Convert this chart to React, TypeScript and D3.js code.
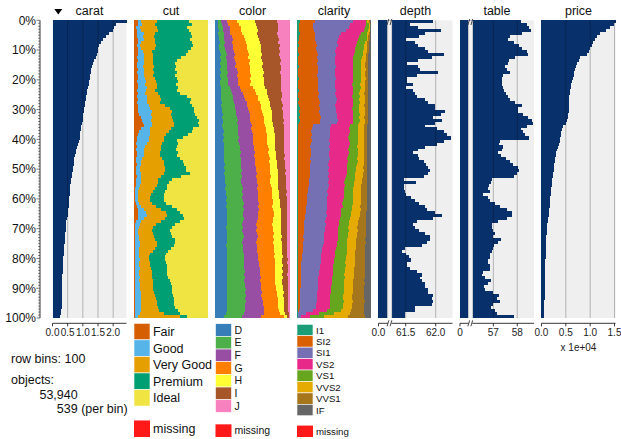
import React from 'react';
import * as d3 from 'd3';

const W = 621;
const H = 439;
const FONT = 'Liberation Sans, Arial, sans-serif';

const colNames = ['carat', 'cut', 'color', 'clarity', 'depth', 'table', 'price'];
const pctTicks = [0, 10, 20, 30, 40, 50, 60, 70, 80, 90, 100];

const cutLevels = ['Fair', 'Good', 'Very Good', 'Premium', 'Ideal'];
const cutColors = ['#D55E00', '#56B4E9', '#E69F00', '#009E73', '#F0E442'];
const colorLevels = ['D', 'E', 'F', 'G', 'H', 'I', 'J'];
const colorColors = ['#377EB8', '#4DAF4A', '#984EA3', '#FF7F00', '#FFFF33', '#A65628', '#F781BF'];
const clarityLevels = ['I1', 'SI2', 'SI1', 'VS2', 'VS1', 'VVS2', 'VVS1', 'IF'];
const clarityColors = ['#1B9E77', '#D95F02', '#7570B3', '#E7298A', '#66A61E', '#E6AB02', '#A6761D', '#666666'];

const caratTicks = [0, 0.5, 1, 1.5, 2];
const depthTicks = [61.5, 62.0];
const tableTicks = [57, 58];
const priceTicks = [0, 5000, 10000, 15000];

// bin means, row 0 = top (largest carat)
const carat = [2.44,2.08,2.02,2.01,1.86,1.75,1.68,1.60,1.54,1.51,
1.50,1.46,1.42,1.37,1.34,1.31,1.28,1.26,1.24,1.22,
1.21,1.19,1.17,1.15,1.13,1.11,1.10,1.08,1.07,1.05,
1.03,1.01,1.01,1.00,0.97,0.95,0.93,0.92,0.90,0.89,
0.87,0.84,0.81,0.78,0.76,0.74,0.72,0.70,0.70,0.69,
0.67,0.65,0.63,0.62,0.60,0.59,0.58,0.58,0.57,0.56,
0.55,0.54,0.53,0.52,0.51,0.50,0.48,0.46,0.45,0.44,
0.43,0.42,0.41,0.40,0.40,0.39,0.38,0.38,0.37,0.36,
0.35,0.34,0.34,0.33,0.33,0.32,0.32,0.32,0.31,0.31,
0.31,0.30,0.30,0.30,0.30,0.30,0.30,0.29,0.28,0.26];

const depth = [61.95,61.58,61.70,62.09,61.82,61.72,61.51,61.66,61.70,61.82,
61.88,62.13,61.94,61.70,61.52,61.70,61.74,62.03,61.69,61.52,
61.52,61.62,61.51,61.62,61.65,61.69,61.83,61.88,61.98,61.99,
62.16,62.08,61.96,62.10,61.99,61.83,62.02,62.13,62.19,62.26,
62.14,62.02,61.82,61.70,61.62,61.70,61.72,61.80,61.84,61.88,
61.91,61.88,61.80,61.47,61.68,61.48,61.47,61.49,61.51,61.59,
61.66,61.73,61.83,61.85,61.99,62.10,61.96,61.69,61.63,61.66,
61.72,61.83,61.91,61.91,61.85,61.77,61.49,61.44,61.51,61.55,
61.59,61.53,61.52,61.58,61.69,61.77,61.74,61.77,61.82,61.83,
61.87,61.88,61.96,61.94,61.95,61.94,61.66,61.65,61.49,61.49];

const table = [58.14,58.39,58.49,58.57,58.18,57.69,57.63,57.88,58.07,58.18,
58.39,58.46,57.90,57.65,57.63,57.49,57.56,57.69,57.42,57.35,
57.35,57.38,57.42,57.46,57.51,57.60,57.69,57.90,58.18,58.04,
58.01,58.25,58.46,58.60,58.67,58.39,58.15,58.25,58.32,58.49,
57.28,57.24,57.42,57.35,57.21,57.32,57.51,57.69,57.83,58.04,
58.07,57.97,57.88,56.93,56.90,56.83,56.79,56.86,56.58,56.79,
56.86,57.07,57.28,57.56,57.76,57.79,57.56,57.21,56.93,56.96,
57.00,57.07,57.00,57.32,57.21,57.04,57.00,56.96,56.86,56.86,
56.79,56.76,56.86,56.86,56.58,56.54,56.65,56.90,56.76,56.63,
56.65,57.00,57.24,57.14,57.28,57.00,56.90,57.07,57.14,57.88];

const price = [15200,14800,14100,13300,12100,11300,10900,10600,10300,10000,
9700,9400,8000,7700,7300,7000,6800,6700,6600,6400,
6300,6100,6000,5900,5900,5700,5700,5700,5600,5700,
5600,5400,5400,5200,5100,4400,4200,4100,4000,3900,
3800,3600,3400,3200,3000,2900,2800,2700,2600,2550,
2500,2400,2300,2200,2150,2100,2000,1950,1900,1850,
1800,1700,1650,1600,1500,1450,1350,1250,1200,1150,
1100,1050,1000,980,950,920,900,880,860,840,
820,800,780,760,740,720,700,690,680,670,
660,650,640,630,620,610,600,590,560,520];

// cumulative category boundaries per bin
const cutCum = [
[.06,.10,.31,.74],[.05,.11,.29,.79],[.03,.08,.31,.72],[.04,.09,.33,.74],[.04,.13,.28,.77],
[.04,.12,.27,.79],[.05,.13,.29,.76],[.05,.09,.29,.79],[.04,.08,.30,.80],[.05,.10,.28,.77],
[.05,.12,.24,.73],[.05,.13,.25,.70],[.04,.13,.26,.64],[.05,.13,.25,.58],[.04,.13,.26,.56],
[.04,.12,.27,.57],[.05,.13,.26,.55],[.04,.14,.27,.58],[.05,.13,.25,.56],[.05,.15,.29,.58],
[.04,.16,.30,.59],[.05,.15,.31,.57],[.05,.17,.31,.60],[.04,.16,.29,.58],[.05,.15,.32,.62],
[.04,.17,.35,.72],[.05,.18,.36,.77],[.04,.17,.35,.75],[.05,.20,.42,.79],[.06,.22,.48,.81],
[.06,.24,.51,.81],[.07,.23,.50,.83],[.09,.24,.52,.85],[.11,.23,.53,.88],[.12,.24,.54,.87],
[.13,.24,.54,.88],[.10,.22,.50,.80],[.07,.22,.47,.78],[.05,.21,.43,.73],[.04,.20,.41,.66],
[.04,.20,.40,.58],[.03,.17,.38,.60],[.04,.15,.37,.58],[.03,.14,.36,.57],[.04,.13,.35,.60],
[.04,.13,.35,.58],[.03,.11,.38,.62],[.03,.10,.40,.66],[.04,.09,.41,.68],[.03,.08,.42,.70],
[.03,.08,.42,.70],[.03,.09,.40,.75],[.04,.10,.36,.63],[.03,.09,.33,.52],[.03,.09,.32,.47],
[.03,.08,.31,.45],[.02,.07,.29,.44],[.02,.06,.25,.42],[.02,.06,.23,.40],[.02,.06,.22,.40],
[.02,.06,.22,.40],[.03,.07,.24,.43],[.04,.10,.30,.52],[.05,.13,.37,.58],[.06,.16,.43,.62],
[.06,.17,.45,.66],[.05,.14,.42,.68],[.03,.10,.36,.62],[.02,.08,.30,.55],[.01,.07,.26,.52],
[.01,.06,.24,.49],[.01,.06,.25,.50],[.02,.07,.27,.52],[.01,.07,.29,.55],[.01,.08,.31,.56],
[.01,.08,.31,.54],[.01,.07,.28,.50],[.01,.07,.25,.46],[.01,.07,.22,.43],[.01,.07,.20,.42],
[.01,.08,.20,.42],[.01,.07,.21,.43],[.01,.07,.22,.44],[.01,.08,.23,.45],[.01,.07,.24,.45],
[.01,.07,.24,.45],[.01,.08,.24,.46],[.01,.07,.25,.48],[.01,.08,.25,.50],[.01,.08,.26,.51],
[.01,.08,.26,.51],[.01,.09,.27,.52],[.01,.09,.28,.53],[.01,.10,.30,.54],[.01,.10,.31,.54],
[.01,.10,.31,.54],[.01,.09,.32,.56],[.02,.10,.34,.60],[.02,.08,.40,.62],[.01,.05,.62,.72]];

const colorCum = [
[.03,.08,.15,.29,.54,.83],[.04,.09,.17,.32,.55,.84],[.04,.10,.19,.34,.56,.84],[.05,.10,.20,.35,.57,.85],[.04,.11,.20,.36,.56,.83],
[.05,.11,.22,.38,.58,.85],[.05,.12,.23,.40,.59,.86],[.06,.13,.22,.41,.60,.85],[.05,.12,.24,.42,.61,.87],[.05,.13,.24,.42,.61,.86],
[.06,.14,.25,.44,.62,.87],[.07,.15,.26,.45,.63,.86],[.06,.14,.25,.44,.62,.87],[.07,.15,.27,.46,.63,.88],[.06,.16,.28,.45,.64,.87],
[.07,.15,.27,.47,.63,.88],[.06,.16,.29,.46,.64,.88],[.07,.17,.30,.47,.65,.87],[.06,.16,.29,.48,.64,.88],[.07,.17,.31,.47,.65,.89],
[.06,.17,.30,.48,.66,.88],[.06,.17,.31,.47,.65,.88],[.07,.19,.33,.50,.67,.89],[.07,.21,.35,.53,.69,.89],[.08,.22,.37,.55,.70,.90],
[.08,.23,.39,.57,.71,.90],[.08,.24,.40,.58,.72,.89],[.09,.25,.42,.60,.73,.90],[.08,.26,.43,.61,.74,.91],[.09,.27,.44,.62,.75,.90],
[.09,.28,.45,.63,.76,.91],[.10,.28,.46,.64,.76,.91],[.09,.29,.47,.65,.77,.91],[.10,.30,.47,.66,.77,.92],[.10,.29,.48,.66,.78,.91],
[.09,.30,.49,.67,.78,.92],[.10,.31,.48,.68,.79,.92],[.11,.30,.49,.68,.79,.92],[.10,.31,.50,.69,.80,.93],[.11,.32,.51,.70,.80,.92],
[.10,.31,.50,.69,.80,.93],[.11,.32,.51,.70,.81,.93],[.12,.33,.52,.71,.81,.92],[.11,.33,.52,.72,.81,.93],[.12,.34,.53,.71,.82,.93],
[.11,.33,.52,.72,.82,.94],[.12,.34,.54,.73,.82,.93],[.12,.35,.53,.72,.83,.94],[.13,.34,.54,.73,.83,.94],[.12,.35,.55,.74,.83,.94],
[.13,.36,.55,.73,.84,.95],[.12,.35,.56,.74,.84,.94],[.13,.36,.55,.75,.85,.95],[.13,.35,.56,.74,.84,.95],[.13,.35,.56,.74,.84,.95],
[.14,.36,.57,.75,.85,.95],[.13,.37,.56,.76,.85,.95],[.14,.36,.57,.76,.86,.96],[.14,.37,.58,.77,.86,.95],[.15,.36,.57,.77,.86,.96],
[.14,.37,.58,.78,.87,.96],[.15,.38,.59,.78,.87,.96],[.14,.37,.58,.77,.87,.96],[.15,.38,.59,.78,.88,.96],[.15,.37,.58,.79,.88,.96],
[.15,.37,.58,.79,.88,.96],[.16,.38,.57,.78,.88,.97],[.15,.37,.56,.78,.89,.96],[.15,.36,.55,.77,.89,.97],[.14,.37,.56,.78,.88,.97],
[.15,.36,.55,.78,.89,.97],[.15,.37,.56,.79,.89,.96],[.16,.38,.57,.78,.90,.97],[.15,.37,.56,.79,.89,.97],[.15,.36,.55,.78,.90,.97],
[.14,.37,.56,.79,.90,.97],[.15,.37,.56,.79,.90,.97],[.15,.37,.56,.79,.90,.97],[.15,.38,.57,.80,.90,.97],[.16,.38,.58,.79,.91,.97],
[.15,.39,.58,.80,.90,.98],[.15,.38,.59,.80,.90,.97],[.16,.39,.59,.80,.91,.98],[.15,.39,.60,.81,.90,.98],[.15,.40,.60,.80,.91,.98],
[.16,.39,.60,.81,.90,.97],[.15,.40,.61,.81,.91,.98],[.15,.39,.60,.80,.90,.98],[.15,.40,.61,.81,.90,.98],[.16,.40,.62,.82,.91,.98],
[.15,.41,.62,.82,.91,.98],[.15,.40,.63,.83,.92,.98],[.16,.41,.62,.83,.91,.98],[.15,.40,.63,.84,.92,.98],[.15,.41,.64,.84,.92,.98],
[.16,.40,.64,.85,.93,.98],[.15,.40,.65,.85,.93,.98],[.15,.40,.65,.86,.93,.98],[.14,.39,.66,.87,.94,.99],[.12,.36,.62,.92,.97,.99]];

const clarityCum = [
[.04,.24,.75,.93,.95,.97,.99],[.03,.22,.72,.93,.97,.98,.99],[.03,.22,.70,.92,.97,.98,.99],[.03,.23,.66,.90,.96,.98,.99],[.04,.24,.60,.86,.95,.97,.98],
[.03,.25,.57,.84,.94,.96,.98],[.03,.25,.55,.82,.94,.96,.98],[.02,.26,.54,.81,.92,.95,.97],[.03,.27,.55,.80,.91,.95,.97],[.02,.26,.53,.79,.90,.94,.97],
[.02,.27,.52,.78,.89,.94,.97],[.03,.28,.53,.77,.89,.93,.96],[.02,.27,.52,.76,.88,.93,.96],[.02,.28,.51,.76,.87,.93,.96],[.02,.27,.52,.75,.87,.92,.96],
[.03,.28,.53,.76,.86,.92,.96],[.02,.29,.52,.75,.87,.93,.96],[.02,.28,.51,.76,.86,.92,.96],[.02,.27,.52,.75,.86,.92,.96],[.03,.28,.53,.76,.87,.93,.96],
[.02,.28,.52,.75,.86,.92,.96],[.02,.29,.51,.74,.85,.92,.96],[.02,.28,.52,.75,.86,.92,.96],[.03,.29,.53,.76,.85,.92,.96],[.02,.30,.52,.75,.84,.91,.96],
[.02,.29,.53,.74,.85,.92,.96],[.03,.30,.54,.75,.84,.92,.96],[.02,.31,.53,.76,.85,.92,.96],[.03,.30,.52,.75,.84,.91,.96],[.04,.31,.53,.74,.84,.92,.96],
[.03,.30,.53,.75,.84,.92,.96],[.04,.31,.54,.76,.85,.92,.96],[.03,.32,.54,.75,.84,.91,.96],[.04,.31,.55,.76,.85,.92,.96],[.03,.31,.54,.75,.84,.92,.96],
[.02,.21,.46,.71,.83,.91,.95],[.01,.20,.45,.70,.83,.91,.95],[.02,.19,.44,.71,.82,.90,.95],[.01,.20,.45,.70,.83,.91,.95],[.01,.19,.44,.69,.82,.90,.95],
[.02,.20,.43,.70,.83,.91,.95],[.01,.19,.44,.71,.82,.90,.95],[.01,.18,.43,.70,.81,.90,.95],[.01,.19,.44,.69,.82,.91,.95],[.01,.19,.43,.70,.83,.90,.95],
[.01,.19,.43,.69,.82,.91,.95],[.01,.18,.44,.68,.81,.90,.95],[.01,.19,.43,.69,.82,.90,.95],[.01,.18,.42,.68,.81,.90,.95],[.01,.17,.43,.67,.80,.89,.95],
[.01,.18,.42,.68,.80,.90,.95],[.01,.17,.43,.67,.79,.89,.94],[.01,.17,.42,.66,.79,.89,.94],[.01,.16,.43,.65,.78,.88,.94],[.01,.16,.42,.64,.77,.88,.94],
[.01,.16,.43,.65,.77,.87,.94],[.01,.15,.42,.64,.76,.87,.94],[.01,.15,.41,.63,.76,.86,.94],[.01,.14,.42,.64,.75,.87,.94],[.01,.14,.41,.63,.76,.86,.94],
[.01,.13,.41,.62,.75,.86,.94],[.01,.13,.40,.61,.75,.86,.94],[.01,.12,.41,.62,.74,.85,.94],[.01,.12,.40,.60,.74,.86,.94],[.01,.12,.39,.60,.73,.85,.93],
[.01,.11,.40,.59,.73,.85,.93],[.01,.11,.39,.58,.72,.84,.93],[.01,.10,.38,.57,.70,.82,.93],[.01,.10,.39,.57,.70,.82,.93],[.01,.09,.38,.56,.69,.81,.93],
[.01,.09,.38,.56,.70,.82,.93],[.01,.09,.37,.56,.69,.81,.93],[.01,.08,.37,.55,.69,.81,.93],[.01,.09,.36,.55,.68,.80,.92],[.01,.08,.36,.54,.68,.80,.93],
[.01,.08,.35,.54,.68,.80,.92],[.01,.08,.34,.53,.67,.80,.92],[.01,.08,.34,.52,.67,.79,.92],[.01,.07,.33,.51,.67,.79,.92],[.01,.07,.33,.51,.66,.78,.92],
[.01,.07,.32,.50,.66,.78,.92],[.01,.06,.32,.50,.65,.78,.92],[.01,.06,.31,.49,.66,.78,.92],[.01,.06,.31,.49,.65,.77,.92],[.01,.06,.30,.48,.65,.77,.92],
[.01,.05,.30,.48,.64,.77,.92],[.01,.05,.29,.47,.65,.77,.92],[.01,.05,.29,.47,.64,.76,.91],[.01,.05,.28,.47,.64,.76,.92],[.01,.05,.28,.46,.63,.76,.91],
[.01,.04,.28,.46,.63,.75,.91],[.01,.04,.27,.46,.63,.75,.91],[.01,.04,.27,.45,.62,.74,.91],[.01,.04,.27,.45,.62,.74,.91],[.01,.04,.27,.45,.63,.75,.92],
[.01,.04,.26,.44,.62,.74,.91],[.01,.04,.26,.44,.62,.74,.91],[.01,.03,.22,.41,.60,.73,.91],[.01,.02,.12,.30,.50,.71,.91],[.01,.02,.05,.18,.37,.69,.92]];

const DARK = '#08306B';
const BG = '#EFEFEF';
const MISSING = '#FF1A1A';

const y = d3.scaleLinear().domain([0, 100]).range([20.3, 318]);
const band = d3.scaleBand<string>().domain(colNames).range([52.5, 615.5]).paddingInner(0.0917).paddingOuter(0);
const colW = band.bandwidth();
const left = (name: string) => band(name) as number;
const AXIS_Y = 323.3;

function rowY(i: number) {
  return y(i);
}
function rowH(i: number) {
  return y(i + 1) - y(i);
}

function NumColumn({ name, values, x, grid, breakAt }: { name: string; values: number[]; x: (v: number) => number; grid: number[]; breakAt?: [number, number] }) {
  const l = left(name);
  return (
    <g>
      <rect x={l} y={y(0)} width={colW} height={y(100) - y(0)} fill={BG} />
      {values.map((v, i) => (
        <rect key={i} x={l} y={rowY(i)} width={Math.max(0, Math.min(x(v), l + colW) - l)} height={rowH(i) + 0.2} fill={DARK} shapeRendering="crispEdges" />
      ))}
      {grid.map((g, i) => (
        <line key={'g' + i} x1={x(g)} x2={x(g)} y1={y(0)} y2={y(100)} stroke="#000" strokeOpacity={0.25} strokeWidth={1} />
      ))}
      {breakAt && (
        <g>
          <rect x={breakAt[0]} y={y(0)} width={breakAt[1] - breakAt[0]} height={y(100) - y(0)} fill="#F4F4F4" />
          <line x1={breakAt[0] + 0.3} x2={breakAt[0] + 0.3} y1={y(0)} y2={y(100)} stroke="#C8C8C8" strokeWidth={0.7} />
          <line x1={breakAt[1] - 0.3} x2={breakAt[1] - 0.3} y1={y(0)} y2={y(100)} stroke="#C8C8C8" strokeWidth={0.7} />
          <BreakMark cx={(breakAt[0] + breakAt[1]) / 2} cy={22} />
        </g>
      )}
    </g>
  );
}

function BreakMark({ cx, cy }: { cx: number; cy: number }) {
  return (
    <g stroke="#333" strokeWidth={0.9} fill="none">
      <line x1={cx - 2.6} y1={cy + 3} x2={cx - 0.8} y2={cy - 3} />
      <line x1={cx + 0.4} y1={cy + 3} x2={cx + 2.2} y2={cy - 3} />
    </g>
  );
}

function CatColumn({ name, cum, colors }: { name: string; cum: number[][]; colors: string[] }) {
  const l = left(name);
  const x = d3.scaleLinear().domain([0, 1]).range([l, l + colW]);
  return (
    <g shapeRendering="crispEdges">
      {cum.map((b, r) => {
        const edges = [0, ...b, 1];
        return colors.map((c, k) => {
          const w = x(edges[k + 1]) - x(edges[k]);
          if (w <= 0) return null;
          return <rect key={r + '-' + k} x={x(edges[k])} y={rowY(r)} width={w} height={rowH(r) + 0.2} fill={c} />;
        });
      })}
    </g>
  );
}

function XAxis({ name, ticks, breakX }: { name: string; ticks: { v: number; x: number; label: string }[]; breakX?: number }) {
  const l = left(name);
  const r = l + colW;
  return (
    <g>
      {breakX === undefined ? (
        <line x1={l} x2={r} y1={AXIS_Y} y2={AXIS_Y} stroke="#222" strokeWidth={0.9} />
      ) : (
        <g>
          <line x1={l} x2={breakX - 1.8} y1={AXIS_Y} y2={AXIS_Y} stroke="#222" strokeWidth={0.9} />
          <line x1={breakX + 1.8} x2={r} y1={AXIS_Y} y2={AXIS_Y} stroke="#222" strokeWidth={0.9} />
          <BreakMark cx={breakX} cy={AXIS_Y} />
        </g>
      )}
      {ticks.map((t, i) => (
        <g key={i}>
          <line x1={t.x} x2={t.x} y1={AXIS_Y} y2={AXIS_Y + 3} stroke="#222" strokeWidth={0.9} />
          <text x={t.x} y={335.5} textAnchor="middle" fontSize={10} fontFamily={FONT} fill="#222">{t.label}</text>
        </g>
      ))}
    </g>
  );
}

function Legend({ name, levels, colors, top, itemH, fontSize }: { name: string; levels: string[]; colors: string[]; top: number; itemH: number; fontSize: number }) {
  const l = left(name);
  return (
    <g fontFamily={FONT}>
      {levels.map((lev, i) => (
        <g key={lev}>
          <rect x={l} y={top + i * itemH} width={16} height={itemH} fill={colors[i]} stroke="#fff" strokeWidth={0.6} />
          <text x={l + 19} y={top + i * itemH + itemH / 2} dy="0.36em" fontSize={fontSize} fill="#111">{lev}</text>
        </g>
      ))}
      <rect x={l} y={437 - itemH} width={16} height={itemH} fill={MISSING} />
      <text x={l + 19} y={437 - itemH / 2} dy="0.36em" fontSize={fontSize} fill="#111">missing</text>
    </g>
  );
}

export default function App() {
  const lc = left('carat');
  const xCarat = d3.scaleLinear().domain([0, d3.max(carat) as number]).range([lc, lc + colW]);

  const ld = left('depth');
  const xDepth = d3.scaleLinear().domain([61.27, 62.28]).range([ld + 13.4, ld + colW]);

  const lt = left('table');
  const xTable = d3.scaleLinear().domain([56.14, 58.70]).range([lt + 12.8, lt + colW]);

  const lp = left('price');
  const xPrice = d3.scaleLinear().domain([0, d3.max(price) as number]).range([lp, lp + colW]);

  const f1 = d3.format('.1f');

  return (
    <svg width={W} height={H} viewBox={`0 0 ${W} ${H}`} style={{ position: 'fixed', left: 0, top: 0, background: '#fff' }}>
      <rect x={0} y={0} width={W} height={H} fill="#fff" />
      {/* titles */}
      <g fontFamily={FONT} fontSize={12.5} fill="#111" textAnchor="middle">
        {colNames.map((n) => (
          <text key={n} x={left(n) + colW / 2} y={15.3}>{n}</text>
        ))}
      </g>
      <path d={`M${lc + 1.8},9 L${lc + 9.8},9 L${lc + 5.8},14.5 Z`} fill="#000" />

      {/* y axis */}
      <g fontFamily={FONT}>
        <line x1={40} x2={40} y1={y(0)} y2={y(100)} stroke="#222" strokeWidth={0.9} />
        {d3.range(0, 101).map((p) => (
          <line key={p} x1={p % 10 === 0 ? 36.5 : 38.2} x2={40} y1={y(p)} y2={y(p)} stroke="#222" strokeWidth={0.6} />
        ))}
        {pctTicks.map((p) => (
          <text key={p} x={36} y={y(p)} dy="0.36em" textAnchor="end" fontSize={12} fill="#111">{p + '%'}</text>
        ))}
      </g>

      <NumColumn name="carat" values={carat} x={xCarat} grid={caratTicks.filter((t) => t > 0)} />
      <CatColumn name="cut" cum={cutCum} colors={cutColors} />
      <CatColumn name="color" cum={colorCum} colors={colorColors} />
      <CatColumn name="clarity" cum={clarityCum} colors={clarityColors} />
      <NumColumn name="depth" values={depth} x={xDepth} grid={depthTicks} breakAt={[ld + 8.9, ld + 13.4]} />
      <NumColumn name="table" values={table} x={xTable} grid={tableTicks} breakAt={[lt + 8.3, lt + 12.8]} />
      <NumColumn name="price" values={price} x={xPrice} grid={priceTicks.filter((t) => t > 0)} />

      <XAxis name="carat" ticks={caratTicks.map((t) => ({ v: t, x: xCarat(t), label: f1(t) }))} />
      <XAxis name="depth" breakX={ld + 11.2} ticks={[{ v: 0, x: ld, label: '0.0' }, ...depthTicks.map((t) => ({ v: t, x: xDepth(t), label: f1(t) }))]} />
      <XAxis name="table" breakX={lt + 10.5} ticks={[{ v: 0, x: lt, label: '0' }, ...tableTicks.map((t) => ({ v: t, x: xTable(t), label: String(t) }))]} />
      <XAxis name="price" ticks={priceTicks.map((t) => ({ v: t, x: xPrice(t), label: f1(t / 10000) }))} />
      <text x={lp + colW / 2} y={351} textAnchor="middle" fontSize={10} fontFamily={FONT} fill="#222">x 1e+04</text>

      <Legend name="cut" levels={cutLevels} colors={cutColors} top={323.3} itemH={16.55} fontSize={12.5} />
      <Legend name="color" levels={colorLevels} colors={colorColors} top={323.7} itemH={12.67} fontSize={10.5} />
      <Legend name="clarity" levels={clarityLevels} colors={clarityColors} top={324.3} itemH={11.43} fontSize={9.7} />

      <g fontFamily={FONT} fontSize={12.5} fill="#111">
        <text x={11} y={363}>row bins: 100</text>
        <text x={11} y={384}>objects:</text>
        <text x={77.7} y={398.5} textAnchor="end">{d3.format(',')(53940)}</text>
        <text x={127.7} y={412.5} textAnchor="end">539 (per bin)</text>
      </g>
    </svg>
  );
}
